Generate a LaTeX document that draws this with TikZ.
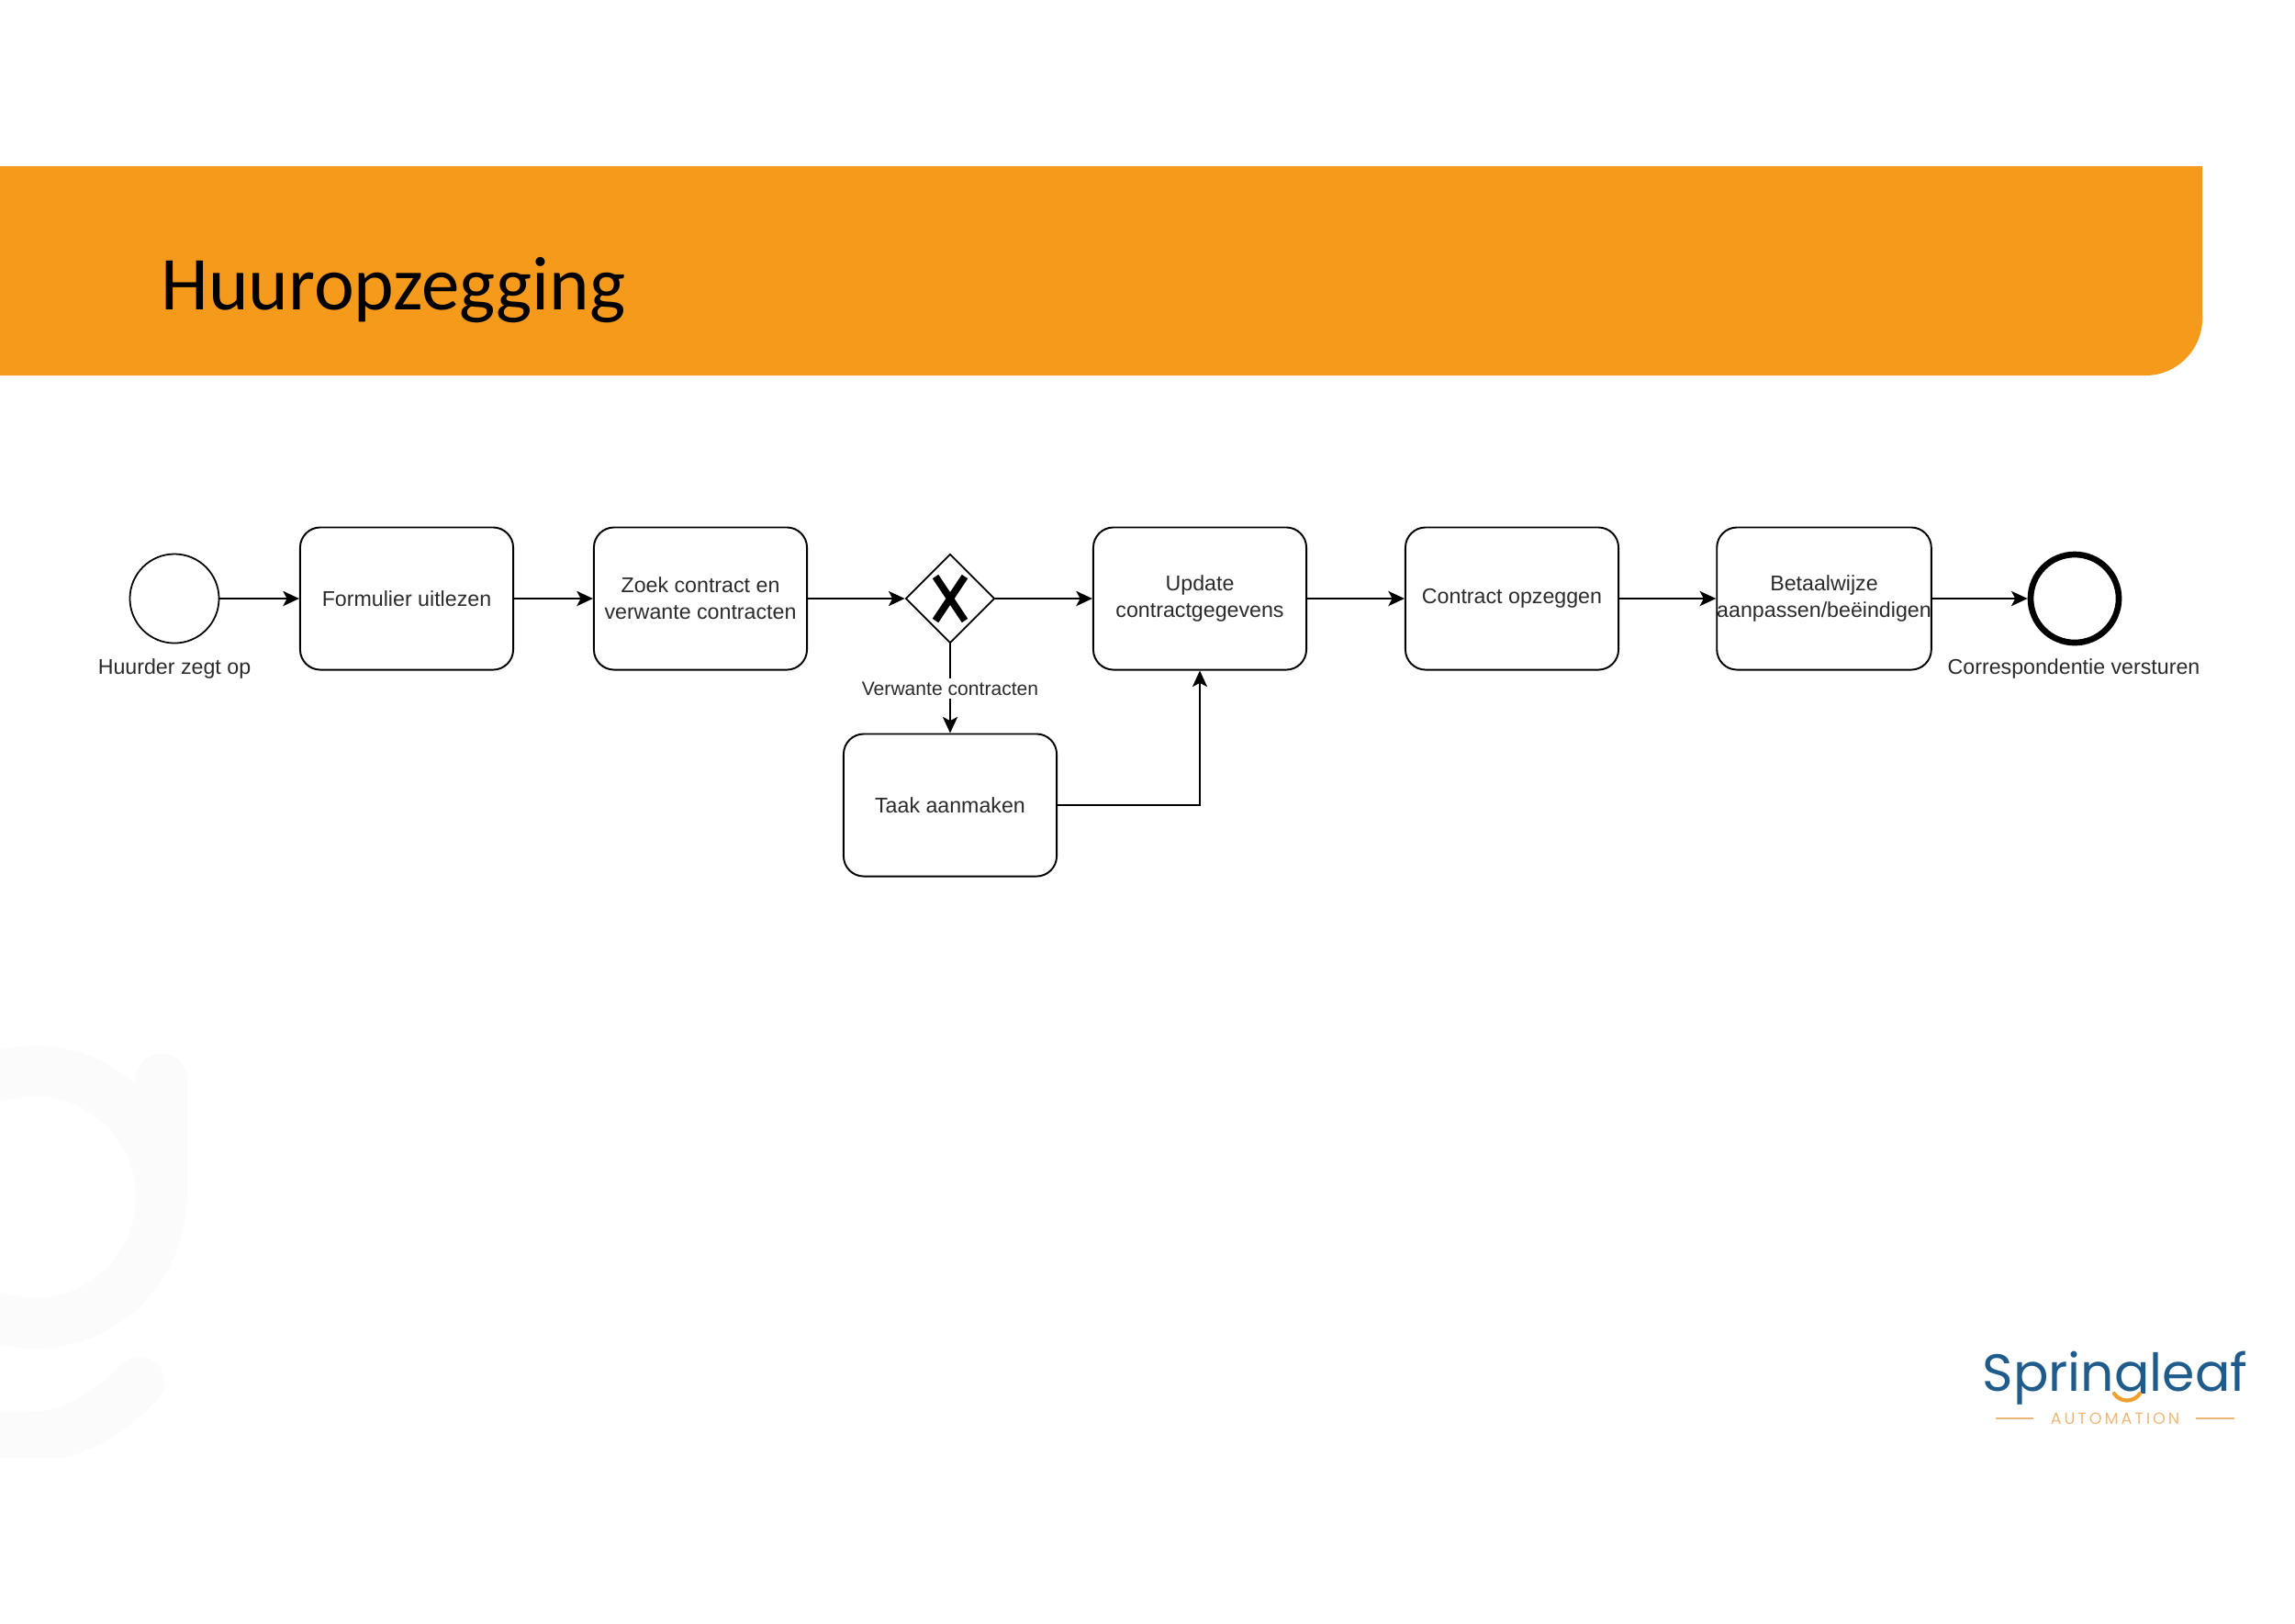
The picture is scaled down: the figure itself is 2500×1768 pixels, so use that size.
\documentclass[tikz,border=0pt]{standalone}
\usepackage{fontspec}
\setmainfont{Liberation Sans}
\newfontfamily\titlefont{Carlito}
\newfontfamily\logofont{Poppins}
\newfontfamily\logosubfont[LetterSpace=16.6]{Poppins}
\usetikzlibrary{shapes,arrows.meta,positioning,calc}
\definecolor{bannerorange}{HTML}{F59A1B}
\definecolor{markgrey}{HTML}{FBFBFB}
\definecolor{logoblue}{HTML}{1F5C8C}
\definecolor{logoorange}{HTML}{EDB877}
\definecolor{smileorange}{HTML}{F0A030}
\definecolor{labelgrey}{HTML}{2A2A2A}
\tikzset{
    taskbox/.style={draw, line width=0.55pt, rounded corners=0.22cm, minimum width=2.32cm, minimum height=1.55cm, align=center, inner sep=0pt, text=labelgrey, font=\fontsize{6.6}{8.3}\selectfont},
    startevent/.style={draw, circle, line width=0.5pt, minimum size=0.97cm, inner sep=0pt},
    endevent/.style={draw, circle, line width=1.9pt, minimum size=0.96cm, inner sep=0pt},
    gateway/.style={draw, diamond, aspect=1, line width=0.5pt, minimum size=0.97cm, inner sep=0pt},
    eventlabel/.style={text=labelgrey, font=\fontsize{6.6}{8.3}\selectfont, inner sep=0pt},
    flow/.style={-{Stealth[length=5pt,width=4.6pt,inset=1.2pt]}, line width=0.7pt}
}
\begin{document}
\begin{tikzpicture}[x=0.01cm, y=-0.01cm]
    \useasboundingbox (0,0) rectangle (2500,1768);

    % watermark
    \begin{scope}
        \clip (0,0) rectangle (2500,1587);
        \draw[markgrey, line width=0.55cm] (38,1304) circle (137.5);
        \draw[markgrey, line width=0.55cm, line cap=round] (176,1175) -- (176,1304);
        \draw[markgrey, line width=0.55cm, line cap=round] (152,1505) .. controls (115,1545) and (70,1565) .. (38,1565) -- (-40,1565);
    \end{scope}

    % banner
    \fill[bannerorange] (0,181) -- (2399,181) [rounded corners=0.62cm] -- (2399,409) [sharp corners] -- (0,409) -- cycle;
    \node[anchor=base west, inner sep=0pt, font=\titlefont\fontsize{23.6}{28}\selectfont] (title) at (175,337) {Huuropzegging};

    % process
    \node[startevent] (start) at (190,652) {};
    \node[taskbox] (read) at (443,652) {Formulier uitlezen};
    \node[taskbox] (search) at (763,652) {Zoek contract en\\verwante contracten};
    \node[gateway] (gate) at (1035,652) {};
    \node[taskbox] (update) at (1307,652) {Update\\contractgegevens};
    \node[taskbox] (cancel) at (1647,652) {Contract opzeggen};
    \node[taskbox] (payment) at (1987,652) {Betaalwijze\\aanpassen/beëindigen};
    \node[endevent] (end) at (2260,652) {};
    \node[taskbox] (task) at (1035,877) {Taak aanmaken};

    \node[eventlabel] (startlabel) at (190,728) {Huurder zegt op};
    \node[eventlabel] (endlabel) at (2259,728) {Correspondentie versturen};

    \draw[line width=2.2pt] ($(gate)+(-16,-24)$) -- ($(gate)+(16,24)$);
    \draw[line width=2.2pt] ($(gate)+(-16,24)$) -- ($(gate)+(16,-24)$);

    \draw[flow] (start) -- (read);
    \draw[flow] (read) -- (search);
    \draw[flow] (search) -- (gate);
    \draw[flow] (gate) -- (update);
    \draw[flow] (update) -- (cancel);
    \draw[flow] (cancel) -- (payment);
    \draw[flow] (payment) -- (end);
    \draw[flow, line width=0.5pt] (gate) -- node[fill=white, inner sep=1pt, text=labelgrey, font=\fontsize{6}{7}\selectfont] {Verwante contracten} (task);
    \draw[flow, line width=0.55pt] (task) -| (update);

    % logo
    \node[anchor=base, inner sep=0pt, text=logoblue, font=\logofont\fontsize{16.2}{20}\selectfont] (logoname) at (2304,1515) {Springleaf};
    \fill[white] (2296,1518) rectangle (2340,1537);
    \draw[smileorange, line width=1.2pt, line cap=round] (2303,1518) .. controls (2310,1528) and (2324,1528) .. (2331,1518);
    \node[inner sep=0pt, text=logoorange, font=\logosubfont\fontsize{5}{6}\selectfont] (logosub) at (2304,1545) {AUTOMATION};
    \draw[logoorange, line width=0.5pt] (2174,1545) -- (2215,1545);
    \draw[logoorange, line width=0.5pt] (2392,1545) -- (2434,1545);
\end{tikzpicture}
\end{document}
